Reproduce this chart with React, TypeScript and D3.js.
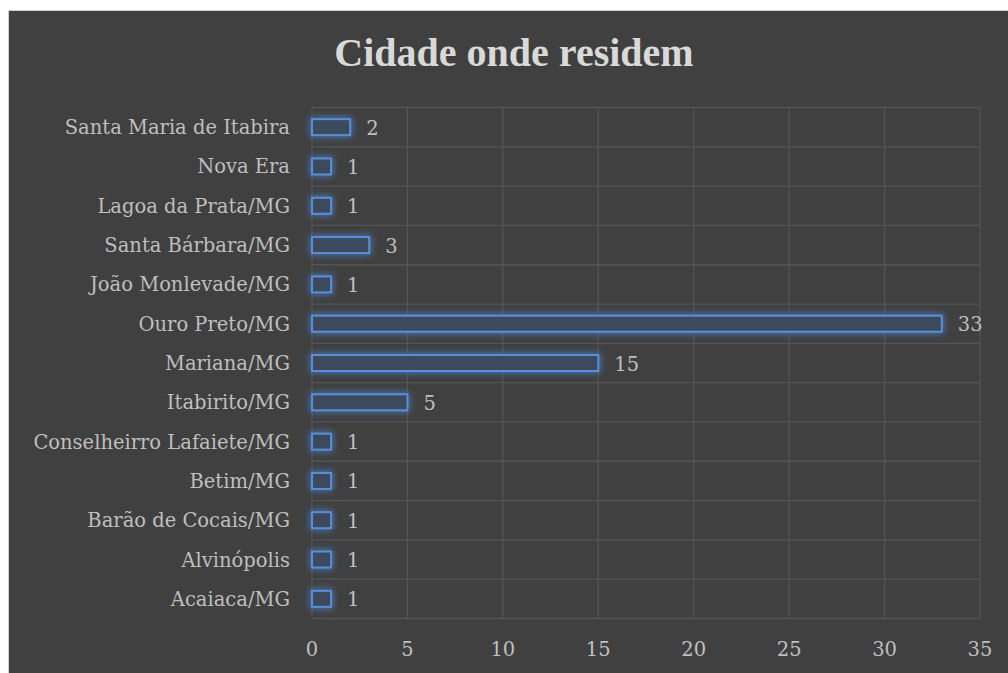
import React from 'react';
import * as d3 from 'd3';

const cities = [
  'Santa Maria de Itabira',
  'Nova Era',
  'Lagoa da Prata/MG',
  'Santa Bárbara/MG',
  'João Monlevade/MG',
  'Ouro Preto/MG',
  'Mariana/MG',
  'Itabirito/MG',
  'Conselheirro Lafaiete/MG',
  'Betim/MG',
  'Barão de Cocais/MG',
  'Alvinópolis',
  'Acaiaca/MG',
];
const counts = [2, 1, 1, 3, 1, 33, 15, 5, 1, 1, 1, 1, 1];
const xTicks = [0, 5, 10, 15, 20, 25, 30, 35];

const W = 1008;
const H = 673;
const FONT = 'DejaVu Serif, serif';
const TITLE_FONT = 'Liberation Serif, serif';

export default function App() {
  const x = d3.scaleLinear().domain([0, 35]).range([312, 980]);
  const y = d3.scaleBand<string>().domain(cities).range([107.5, 618.5]);
  const barH = 16;

  return (
    <div style={{ position: 'absolute', left: 0, top: 0 }}>
      <svg width={W} height={H} style={{ display: 'block' }}>
        <defs>
          <filter id="glow" x="-20%" y="-100%" width="140%" height="300%">
            <feGaussianBlur stdDeviation="3.5" />
          </filter>
        </defs>
        <rect x={0} y={0} width={W} height={H} fill="#ffffff" />
        <rect x={8.5} y={10.5} width={W} height={H} fill="#404040" stroke="#d0d0d0" strokeWidth={1} />
        <text x={514} y={66} textAnchor="middle" fill="#d9d9d9" fontFamily={TITLE_FONT} fontWeight="bold" fontSize={40}>
          Cidade onde residem
        </text>

        {/* grid */}
        {xTicks.map((t) => (
          <line key={'v' + t} x1={x(t)} x2={x(t)} y1={107.5} y2={618.5} stroke="#545454" strokeWidth={1.3} />
        ))}
        {[...cities.map((c) => y(c)!), 618.5].map((v, i) => (
          <line key={'h' + i} x1={x(0)} x2={x(35)} y1={v} y2={v} stroke="#545454" strokeWidth={1.3} />
        ))}

        {/* bars */}
        {cities.map((c, i) => {
          const cy = y(c)! + y.bandwidth() / 2;
          return (
            <g key={c}>
              <rect x={x(0) - 2} y={cy - barH / 2 - 2} width={x(counts[i]) - x(0) + 4} height={barH + 4}
                fill="#4a80cc" opacity={0.8} filter="url(#glow)" />
              <rect x={x(0)} y={cy - barH / 2} width={x(counts[i]) - x(0)} height={barH}
                fill="#3d4a5e" stroke="#5a8fd8" strokeWidth={2} />
              <text x={x(counts[i]) + 16} y={cy + 7.5} fill="#bfbfbf" fontFamily={FONT} fontSize={19.5}>
                {counts[i]}
              </text>
              <text x={290} y={cy + 7} textAnchor="end" fill="#bfbfbf" fontFamily={FONT} fontSize={19.5}>
                {c}
              </text>
            </g>
          );
        })}

        {/* x axis labels */}
        {xTicks.map((t) => (
          <text key={'t' + t} x={x(t)} y={656} textAnchor="middle" fill="#bfbfbf" fontFamily={FONT} fontSize={19.5}>
            {t}
          </text>
        ))}
      </svg>
    </div>
  );
}
